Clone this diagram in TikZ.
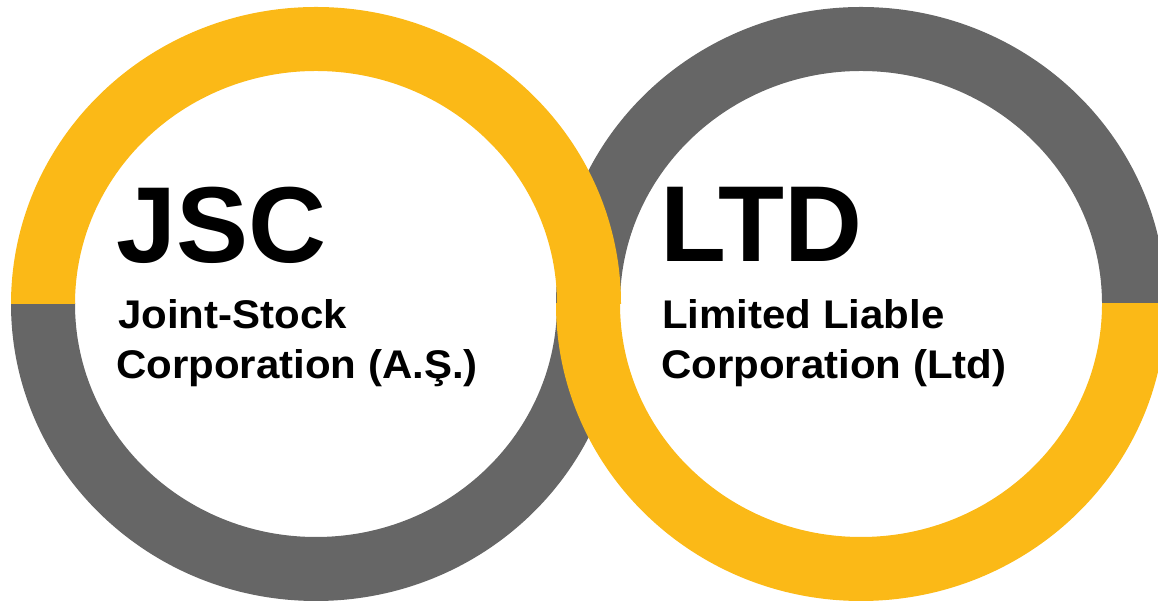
\documentclass[tikz,border=0pt]{standalone}
\usepackage{fontspec}
\setmainfont{Liberation Sans}
\newfontfamily\subfont[FakeStretch=1.05]{Liberation Sans}
\definecolor{ringyellow}{HTML}{FBB917}
\definecolor{ringgray}{HTML}{666666}
\begin{document}
\begin{tikzpicture}[x=1pt,y=1pt,
  bigtxt/.style={anchor=base west,inner sep=0pt,font=\fontsize{108}{108}\selectfont\bfseries},
  subtxt/.style={anchor=base west,inner sep=0pt,font=\subfont\fontsize{40}{40}\selectfont\bfseries}]
\useasboundingbox (0,0) rectangle (1158,601);
% ring helper: centre (cx,cy) in y-up coords
\newcommand{\myring}[3]{%
  \fill[#3,even odd rule] (#1,#2) ellipse [x radius=305,y radius=297]
                         (#1,#2) ellipse [x radius=241,y radius=233];}
% gray halves first
\begin{scope}
  \clip (0,0) rectangle (600,297);
  \myring{316}{297}{ringgray}
\end{scope}
\begin{scope}
  \clip (500,297) rectangle (1200,700);
  \myring{861}{297}{ringgray}
\end{scope}
% yellow halves on top
\begin{scope}
  \clip (0,297) rectangle (700,700);
  \myring{316}{297}{ringyellow}
\end{scope}
\begin{scope}
  \clip (500,-100) rectangle (1200,297);
  \myring{861}{297}{ringyellow}
\end{scope}
% texts (baselines from top: 263, 329, 379)
\node[bigtxt] (jsc) at (116,338) {JSC};
\node[subtxt] (jsc1) at (118,272) {Joint-Stock};
\node[subtxt] (jsc2) at (116,222) {Corporation (A.Ş.)};
\node[bigtxt] (ltd) at (660,339) {LTD};
\node[subtxt] (ltd1) at (662,272) {Limited Liable};
\node[subtxt] (ltd2) at (661,222) {Corporation (Ltd)};
\end{tikzpicture}
\end{document}
